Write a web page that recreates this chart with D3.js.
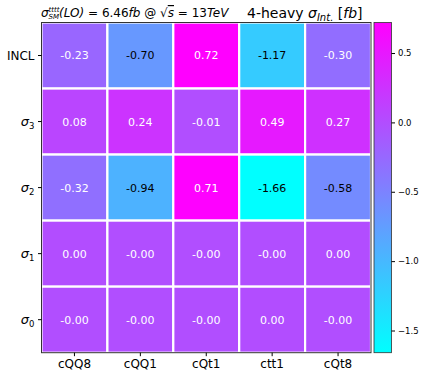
<!DOCTYPE html>
<html>
<head>
<meta charset="utf-8">
<script src="https://cdn.jsdelivr.net/npm/d3@7"></script>
<style>
  body { margin: 0; background: #fff; }
  text { font-family: "DejaVu Sans", sans-serif; }
</style>
</head>
<body>
<div id="chart"></div>
<script>
// operators along x, cross-section pieces along y (top to bottom)
var columns = ["cQQ8", "cQQ1", "cQt1", "ctt1", "cQt8"];
var rows = ["INCL", "3", "2", "1", "0"];

// values per row (fb)
var rowINCL = [-0.23, -0.70, 0.72, -1.17, -0.30];
var rowS3 = [0.08, 0.24, -0.01, 0.49, 0.27];
var rowS2 = [-0.32, -0.94, 0.71, -1.66, -0.58];
var rowS1 = [0.004, -0.004, -0.004, -0.004, 0.004];
var rowS0 = [-0.004, -0.004, -0.004, 0.004, -0.004];
var values = [rowINCL, rowS3, rowS2, rowS1, rowS0];

var cbarTicks = [0.5, 0.0, -0.5, -1.0, -1.5];
var vmin = -1.66, vmax = 0.72;

var W = 424, H = 378;
var plot = {left: 41.5, right: 371, top: 22.5, bottom: 352.7};
var cbar = {left: 374, right: 391.5};

var svg = d3.select("#chart").append("svg")
  .attr("width", W).attr("height", H);

var x = d3.scaleBand().domain(columns).range([plot.left, plot.right]);
var y = d3.scaleBand().domain(rows).range([plot.top, plot.bottom]);

// matplotlib "cool" colormap: cyan -> magenta
var color = d3.scaleLinear().domain([vmin, vmax])
  .range(["#00ffff", "#ff00ff"]).clamp(true);
var norm = d3.scaleLinear().domain([vmin, vmax]).range([0, 1]);

var cells = [];
values.forEach(function(r, i) {
  r.forEach(function(v, j) {
    cells.push({row: rows[i], col: columns[j], value: v});
  });
});

svg.selectAll(".cell")
  .data(cells)
  .enter().append("rect")
    .attr("class", "cell")
    .attr("x", function(d) { return x(d.col); })
    .attr("y", function(d) { return y(d.row); })
    .attr("width", x.bandwidth())
    .attr("height", y.bandwidth())
    .attr("fill", function(d) { return color(d.value); })
    .attr("stroke", "#fff")
    .attr("stroke-width", 2.2);

// dark text on the light cyan-ish end, white elsewhere
svg.selectAll(".annot")
  .data(cells)
  .enter().append("text")
    .attr("class", "annot")
    .attr("x", function(d) { return x(d.col) + x.bandwidth() / 2; })
    .attr("y", function(d) { return y(d.row) + y.bandwidth() / 2; })
    .attr("dy", "0.36em")
    .attr("text-anchor", "middle")
    .style("font-size", "11px")
    .attr("fill", function(d) { return norm(d.value) < 0.5 ? "#000" : "#fff"; })
    .text(function(d) { return d.value.toFixed(2); });

// frame
svg.append("rect")
  .attr("x", plot.left).attr("y", plot.top)
  .attr("width", plot.right - plot.left).attr("height", plot.bottom - plot.top)
  .attr("fill", "none").attr("stroke", "#333").attr("stroke-width", 1);

// x axis
var xAxis = svg.append("g")
  .attr("transform", "translate(0," + plot.bottom + ")")
  .call(d3.axisBottom(x).tickSize(3.5).tickPadding(3.5));
xAxis.select(".domain").remove();
xAxis.selectAll("text").style("font-size", "12px").attr("fill", "#000")
  .style("font-family", "DejaVu Sans");

// y axis
var yAxis = svg.append("g")
  .attr("transform", "translate(" + plot.left + ",0)")
  .call(d3.axisLeft(y).tickSize(3.5).tickPadding(3.5).tickFormat(""));
yAxis.select(".domain").remove();
yAxis.selectAll(".tick").each(function(d) {
  var t = d3.select(this).append("text")
    .attr("x", -7).attr("dy", "0.36em")
    .attr("text-anchor", "end").attr("fill", "#000")
    .style("font-size", "12px");
  if (d === "INCL") {
    t.text("INCL");
  } else {
    t.append("tspan").style("font-style", "italic").style("font-size", "13px").text("σ");
    t.append("tspan").attr("dy", 3).style("font-size", "8.5px").text(d);
  }
});

// colorbar
var defs = svg.append("defs");
var grad = defs.append("linearGradient").attr("id", "cool")
  .attr("x1", 0).attr("y1", 1).attr("x2", 0).attr("y2", 0);
grad.append("stop").attr("offset", "0%").attr("stop-color", color(vmin));
grad.append("stop").attr("offset", "100%").attr("stop-color", color(vmax));

var cy = d3.scaleLinear().domain([vmin, vmax]).range([plot.bottom, plot.top]);
svg.append("rect")
  .attr("x", cbar.left).attr("y", plot.top)
  .attr("width", cbar.right - cbar.left).attr("height", plot.bottom - plot.top)
  .attr("fill", "url(#cool)").attr("stroke", "#333").attr("stroke-width", 0.8);

var cAxis = svg.append("g")
  .attr("transform", "translate(" + cbar.right + ",0)")
  .call(d3.axisRight(cy).tickValues(cbarTicks).tickFormat(d3.format(".1f"))
    .tickSize(3.5).tickPadding(3));
cAxis.select(".domain").remove();
cAxis.selectAll("text").style("font-size", "8.5px").attr("fill", "#000")
  .style("font-family", "DejaVu Sans");

// titles
var t1 = svg.append("text").attr("x", 41).attr("y", 17).style("font-size", "12px");
t1.append("tspan").style("font-style", "italic").text("σ");
t1.append("tspan").attr("dy", -4.8).style("font-style", "italic").style("font-size", "7px").text("tttt");
t1.append("tspan").attr("dx", -11).attr("dy", 6.6).style("font-style", "italic").style("font-size", "7px").text("SM");
t1.append("tspan").attr("dy", -1.8).style("font-style", "italic").text("(LO)");
t1.append("tspan").text(" = 6.46");
t1.append("tspan").style("font-style", "italic").text("fb");
t1.append("tspan").text(" @ √");
t1.append("tspan").style("font-style", "italic").style("text-decoration", "overline").text("s");
t1.append("tspan").text(" = 13");
t1.append("tspan").style("font-style", "italic").text("TeV");

var t2 = svg.append("text").attr("x", 247).attr("y", 18).style("font-size", "14px");
t2.append("tspan").text("4-heavy ");
t2.append("tspan").style("font-style", "italic").text("σ");
t2.append("tspan").attr("dy", 3).style("font-style", "italic").style("font-size", "10px").text("Int.");
t2.append("tspan").attr("dy", -3).text(" [");
t2.append("tspan").style("font-style", "italic").text("fb");
t2.append("tspan").text("]");
</script>
</body>
</html>
